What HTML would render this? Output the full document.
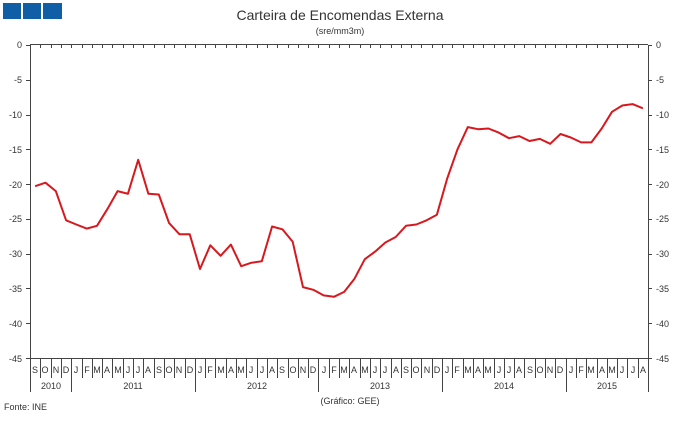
<!DOCTYPE html>
<html><head><style>
body{margin:0;background:#fff}
svg text{font-family:"Liberation Sans",sans-serif;fill:#333}
</style></head><body>
<svg id="sv" width="680" height="416" xmlns="http://www.w3.org/2000/svg">
<rect x="3" y="3" width="18" height="16" fill="#0f5ea6"/>
<rect x="23" y="3" width="18" height="16" fill="#0f5ea6"/>
<rect x="43" y="3" width="19" height="16" fill="#0f5ea6"/>
<text x="340" y="20" font-size="14" text-anchor="middle" fill="#222">Carteira de Encomendas Externa</text>
<text x="340" y="34" font-size="9" text-anchor="middle">(sre/mm3m)</text>
<path id="ax" stroke="#444" stroke-width="1" fill="none" d=""/>
<g font-size="9" text-anchor="end">
<text x="22" y="48">0</text><text x="22" y="83">-5</text><text x="22" y="118">-10</text><text x="22" y="153">-15</text><text x="22" y="188">-20</text><text x="22" y="222">-25</text><text x="22" y="257">-30</text><text x="22" y="292">-35</text><text x="22" y="327">-40</text><text x="22" y="362">-45</text>
</g>
<g font-size="9" text-anchor="start">
<text x="656" y="48">0</text><text x="656" y="83">-5</text><text x="656" y="118">-10</text><text x="656" y="153">-15</text><text x="656" y="188">-20</text><text x="656" y="222">-25</text><text x="656" y="257">-30</text><text x="656" y="292">-35</text><text x="656" y="327">-40</text><text x="656" y="362">-45</text>
</g>
<g font-size="9" text-anchor="middle">
<text x="35" y="373">S</text><text x="45" y="373">O</text><text x="56" y="373">N</text><text x="66" y="373">D</text><text x="76" y="373">J</text><text x="87" y="373">F</text><text x="97" y="373">M</text><text x="107" y="373">A</text><text x="118" y="373">M</text><text x="128" y="373">J</text><text x="138" y="373">J</text><text x="148" y="373">A</text>
<text x="159" y="373">S</text><text x="169" y="373">O</text><text x="179" y="373">N</text><text x="190" y="373">D</text><text x="200" y="373">J</text><text x="210" y="373">F</text><text x="221" y="373">M</text><text x="231" y="373">A</text><text x="241" y="373">M</text><text x="251" y="373">J</text><text x="262" y="373">J</text><text x="272" y="373">A</text>
<text x="282" y="373">S</text><text x="293" y="373">O</text><text x="303" y="373">N</text><text x="313" y="373">D</text><text x="324" y="373">J</text><text x="334" y="373">F</text><text x="344" y="373">M</text><text x="354" y="373">A</text><text x="365" y="373">M</text><text x="375" y="373">J</text><text x="385" y="373">J</text><text x="396" y="373">A</text>
<text x="406" y="373">S</text><text x="416" y="373">O</text><text x="427" y="373">N</text><text x="437" y="373">D</text><text x="447" y="373">J</text><text x="457" y="373">F</text><text x="468" y="373">M</text><text x="478" y="373">A</text><text x="488" y="373">M</text><text x="499" y="373">J</text><text x="509" y="373">J</text><text x="519" y="373">A</text>
<text x="530" y="373">S</text><text x="540" y="373">O</text><text x="550" y="373">N</text><text x="560" y="373">D</text><text x="571" y="373">J</text><text x="581" y="373">F</text><text x="591" y="373">M</text><text x="602" y="373">A</text><text x="612" y="373">M</text><text x="622" y="373">J</text><text x="633" y="373">J</text><text x="643" y="373">A</text>
<text x="51" y="389">2010</text><text x="133" y="389">2011</text><text x="257" y="389">2012</text><text x="380" y="389">2013</text><text x="504" y="389">2014</text><text x="607" y="389">2015</text>
</g>
<text x="4" y="410" font-size="9">Fonte:  INE</text>
<text x="350" y="404" font-size="9" text-anchor="middle">(Gráfico:  GEE)</text>
<polyline id="ln" fill="none" stroke="#d7191f" stroke-width="2" stroke-linejoin="round"/>
<script>
var v=[-20.3,-19.8,-21,-25.2,-25.8,-26.4,-26,-23.6,-21,-21.4,-16.5,-21.4,-21.5,-25.6,-27.2,-27.2,-32.2,-28.8,-30.3,-28.7,-31.8,-31.3,-31.1,-26.1,-26.5,-28.3,-34.8,-35.2,-36,-36.2,-35.5,-33.6,-30.8,-29.7,-28.4,-27.6,-26,-25.8,-25.2,-24.4,-19.2,-15,-11.8,-12.1,-12,-12.6,-13.4,-13.1,-13.8,-13.5,-14.2,-12.8,-13.3,-14,-14,-12,-9.6,-8.7,-8.5,-9.1];
var w=10.3,L=30,T=45,k=313/45;
document.getElementById('ln').setAttribute('points',v.map(function(d,i){return (L+(i+.5)*w).toFixed(1)+','+(T-d*k).toFixed(1)}).join(' '));
var s='M30,44.5H648M30.5,45V392M648.5,45V392M30,358.5H648';
for(var i=1;i<60;i++){var x=(Math.round(L+i*w)+0.5);s+='M'+x+',45V48';var yr=(i-4)%12==0;s+='M'+x+',358V'+(yr?392:378);}
for(var j=0;j<=9;j++){var y=(Math.round(T+j*5*k)+0.5);s+='M26,'+y+'H30M648,'+y+'H652';}
document.getElementById('ax').setAttribute('d',s);
</script>
</svg>
</body></html>
